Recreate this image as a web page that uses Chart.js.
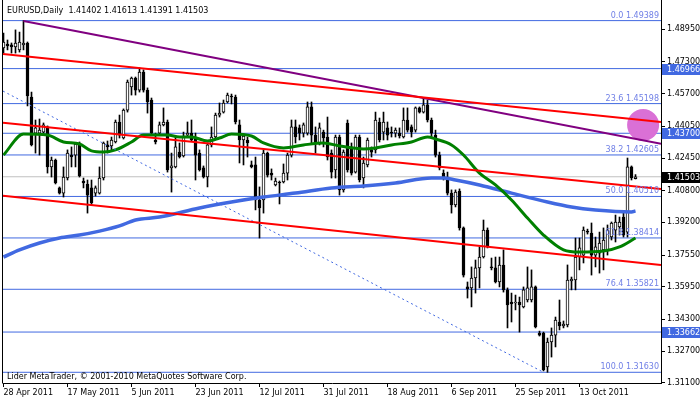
<!DOCTYPE html>
<html>
<head>
<meta charset="utf-8">
<title>EURUSD, Daily</title>
<script src="https://cdn.jsdelivr.net/npm/chart.js@4.4.1/dist/chart.umd.min.js"></script>
<style>
  html, body { margin: 0; padding: 0; background: #fff; }
  #chart { display: block; }
</style>
</head>
<body>
<canvas id="chart" width="700" height="402"></canvas>
<script>
// ---------------------------------------------------------------
// Daily bars, 28 Apr 2011 .. 20 Oct 2011 (Sunday bars included)
// ---------------------------------------------------------------
const openPrices = [
  1.4801, 1.4821, 1.4816, 1.4806, 1.4791, 1.4816, 1.4826, 1.4553, 1.4371, 1.4371,
  1.4376, 1.4402, 1.4200, 1.4235, 1.4094, 1.4068, 1.4144, 1.4260, 1.4260, 1.4321,
  1.4129, 1.4114, 1.4094, 1.4068, 1.4068, 1.4144, 1.4311, 1.4306, 1.4326, 1.4427,
  1.4346, 1.4487, 1.4604, 1.4649, 1.4588, 1.4679, 1.4588, 1.4538, 1.4336, 1.4371,
  1.4412, 1.4427, 1.4195, 1.4200, 1.4275, 1.4255, 1.4361, 1.4371, 1.4351, 1.4270,
  1.4195, 1.4149, 1.4311, 1.4351, 1.4462, 1.4477, 1.4528, 1.4558, 1.4553, 1.4412,
  1.4336, 1.4336, 1.4210, 1.4210, 1.4033, 1.4033, 1.4270, 1.4169, 1.4109, 1.4124,
  1.4124, 1.4169, 1.4260, 1.4402, 1.4397, 1.4371, 1.4371, 1.4503, 1.4361, 1.4321,
  1.4376, 1.4351, 1.4270, 1.4185, 1.4351, 1.4084, 1.4422, 1.4301, 1.4174, 1.4351,
  1.4144, 1.4210, 1.4286, 1.4286, 1.4427, 1.4376, 1.4397, 1.4376, 1.4371, 1.4371,
  1.4351, 1.4437, 1.4402, 1.4386, 1.4498, 1.4477, 1.4513, 1.4437, 1.4361, 1.4260,
  1.4169, 1.4144, 1.4068, 1.4008, 1.4078, 1.3892, 1.3594, 1.3589, 1.3639, 1.3690,
  1.3745, 1.3881, 1.3695, 1.3690, 1.3619, 1.3705, 1.3579, 1.3518, 1.3513, 1.3518,
  1.3493, 1.3528, 1.3528, 1.3594, 1.3361, 1.3361, 1.3190, 1.3316, 1.3351, 1.3417,
  1.3397, 1.3402, 1.3624, 1.3629, 1.3745, 1.3755, 1.3876, 1.3866, 1.3755, 1.3765,
  1.3781, 1.3781, 1.3846, 1.3881, 1.3897, 1.3947, 1.3871, 1.4200, 1.41402
];
const highPrices = [
  1.4876, 1.4841, 1.4826, 1.4892, 1.4881, 1.4939, 1.4831, 1.4578, 1.4437, 1.4442,
  1.4422, 1.4407, 1.4250, 1.4240, 1.4099, 1.4200, 1.4286, 1.4301, 1.4321, 1.4326,
  1.4144, 1.4134, 1.4134, 1.4104, 1.4200, 1.4326, 1.4331, 1.4351, 1.4437, 1.4462,
  1.4493, 1.4639, 1.4654, 1.4654, 1.4700, 1.4690, 1.4599, 1.4548, 1.4371, 1.4427,
  1.4498, 1.4437, 1.4270, 1.4351, 1.4321, 1.4376, 1.4427, 1.4437, 1.4371, 1.4286,
  1.4205, 1.4321, 1.4402, 1.4472, 1.4523, 1.4538, 1.4573, 1.4568, 1.4563, 1.4437,
  1.4366, 1.4351, 1.4230, 1.4250, 1.4099, 1.4286, 1.4275, 1.4190, 1.4144, 1.4129,
  1.4215, 1.4270, 1.4437, 1.4437, 1.4412, 1.4422, 1.4528, 1.4528, 1.4402, 1.4422,
  1.4386, 1.4452, 1.4286, 1.4361, 1.4361, 1.4286, 1.4437, 1.4321, 1.4361, 1.4361,
  1.4250, 1.4346, 1.4301, 1.4477, 1.4447, 1.4477, 1.4427, 1.4402, 1.4397, 1.4397,
  1.4498, 1.4498, 1.4412, 1.4503, 1.4503, 1.4548, 1.4538, 1.4447, 1.4386, 1.4275,
  1.4185, 1.4174, 1.4084, 1.4084, 1.4089, 1.3897, 1.3619, 1.3695, 1.3730, 1.3796,
  1.3932, 1.3892, 1.3740, 1.3745, 1.3745, 1.3781, 1.3589, 1.3563, 1.3553, 1.3543,
  1.3594, 1.3695, 1.3680, 1.3599, 1.3371, 1.3366, 1.3336, 1.3387, 1.3442, 1.3528,
  1.3422, 1.3705, 1.3644, 1.3841, 1.3841, 1.3897, 1.3886, 1.3917, 1.3846, 1.3871,
  1.3892, 1.3907, 1.3922, 1.3957, 1.3947, 1.3967, 1.4245, 1.4205, 1.41613
];
const lowPrices = [
  1.4775, 1.4791, 1.4775, 1.4775, 1.4780, 1.4791, 1.4508, 1.4306, 1.4270, 1.4260,
  1.4371, 1.4169, 1.4149, 1.4114, 1.4063, 1.4048, 1.4134, 1.4200, 1.4200, 1.4149,
  1.4094, 1.3967, 1.4008, 1.4053, 1.4063, 1.4134, 1.4270, 1.4286, 1.4321, 1.4346,
  1.4341, 1.4477, 1.4563, 1.4563, 1.4578, 1.4578, 1.4472, 1.4361, 1.4316, 1.4361,
  1.4407, 1.4174, 1.4073, 1.4195, 1.4245, 1.4250, 1.4351, 1.4331, 1.4134, 1.4179,
  1.4144, 1.4099, 1.4301, 1.4346, 1.4452, 1.4472, 1.4523, 1.4518, 1.4417, 1.4220,
  1.4210, 1.4250, 1.4195, 1.3983, 1.3841, 1.3967, 1.4149, 1.4134, 1.4104, 1.4013,
  1.4119, 1.4134, 1.4250, 1.4321, 1.4336, 1.4351, 1.4361, 1.4321, 1.4270, 1.4311,
  1.4301, 1.4235, 1.4144, 1.4144, 1.4058, 1.4073, 1.4174, 1.4159, 1.4169, 1.4124,
  1.4094, 1.4200, 1.4250, 1.4270, 1.4326, 1.4336, 1.4336, 1.4351, 1.4351, 1.4346,
  1.4346, 1.4376, 1.4351, 1.4376, 1.4472, 1.4472, 1.4427, 1.4351, 1.4250, 1.4185,
  1.4134, 1.4058, 1.3967, 1.3998, 1.3881, 1.3644, 1.3538, 1.3493, 1.3563, 1.3589,
  1.3740, 1.3791, 1.3680, 1.3614, 1.3594, 1.3568, 1.3387, 1.3417, 1.3478, 1.3366,
  1.3488, 1.3518, 1.3518, 1.3387, 1.3346, 1.3170, 1.3163, 1.3240, 1.3291, 1.3377,
  1.3387, 1.3392, 1.3579, 1.3579, 1.3680, 1.3715, 1.3861, 1.3654, 1.3695, 1.3664,
  1.3680, 1.3755, 1.3831, 1.3821, 1.3856, 1.3846, 1.3846, 1.4134, 1.41391
];
const closePrices = [
  1.4831, 1.4811, 1.4806, 1.4826, 1.4831, 1.4826, 1.4558, 1.4311, 1.4397, 1.4386,
  1.4412, 1.4200, 1.4235, 1.4119, 1.4068, 1.4149, 1.4270, 1.4250, 1.4316, 1.4154,
  1.4119, 1.4058, 1.4018, 1.4094, 1.4144, 1.4321, 1.4301, 1.4336, 1.4427, 1.4361,
  1.4487, 1.4629, 1.4649, 1.4588, 1.4679, 1.4588, 1.4528, 1.4371, 1.4326, 1.4412,
  1.4427, 1.4185, 1.4205, 1.4301, 1.4250, 1.4351, 1.4371, 1.4336, 1.4260, 1.4185,
  1.4149, 1.4311, 1.4351, 1.4462, 1.4472, 1.4523, 1.4563, 1.4553, 1.4427, 1.4336,
  1.4356, 1.4321, 1.4200, 1.4033, 1.3993, 1.4270, 1.4159, 1.4159, 1.4129, 1.4119,
  1.4169, 1.4260, 1.4402, 1.4351, 1.4371, 1.4412, 1.4503, 1.4361, 1.4321, 1.4397,
  1.4346, 1.4250, 1.4174, 1.4351, 1.4084, 1.4275, 1.4185, 1.4169, 1.4351, 1.4134,
  1.4220, 1.4336, 1.4275, 1.4437, 1.4336, 1.4427, 1.4361, 1.4371, 1.4386, 1.4356,
  1.4437, 1.4386, 1.4376, 1.4498, 1.4477, 1.4513, 1.4437, 1.4371, 1.4260, 1.4195,
  1.4144, 1.4068, 1.4008, 1.4073, 1.3892, 1.3654, 1.3584, 1.3639, 1.3690, 1.3745,
  1.3881, 1.3796, 1.3690, 1.3619, 1.3705, 1.3579, 1.3503, 1.3508, 1.3518, 1.3503,
  1.3579, 1.3589, 1.3594, 1.3392, 1.3351, 1.3175, 1.3316, 1.3351, 1.3427, 1.3397,
  1.3407, 1.3629, 1.3634, 1.3745, 1.3791, 1.3881, 1.3871, 1.3755, 1.3796, 1.3816,
  1.3831, 1.3881, 1.3917, 1.3922, 1.3922, 1.3856, 1.4200, 1.4144, 1.41503
];

// moving averages, read at sample bars
const maGreenIdx = [0, 5, 11, 15, 19, 22, 25, 28, 32, 35, 41, 44, 47, 51, 54, 57, 62, 65, 70, 75,
  80, 84, 90, 93, 97, 102, 106, 108, 112, 115, 119, 123, 127, 131, 135, 140, 144, 150, 154, 158];
const maGreenVal = [1.4260, 1.4366, 1.4361, 1.4326, 1.4316, 1.4281, 1.4275, 1.4286, 1.4326, 1.4361,
  1.4361, 1.4351, 1.4351, 1.4331, 1.4346, 1.4366, 1.4356, 1.4321, 1.4296, 1.4311,
  1.4321, 1.4306, 1.4291, 1.4296, 1.4311, 1.4326, 1.4351, 1.4341, 1.4311, 1.4260,
  1.4169, 1.4109, 1.4033, 1.3942, 1.3856, 1.3781, 1.3770, 1.3775, 1.3796, 1.3841];
const maBlueIdx = [0, 4, 9, 14, 19, 24, 29, 33, 39, 49, 57, 65, 73, 82, 90, 98, 107, 110, 113,
  119, 127, 136, 142, 148, 157, 158];
const maBlueVal = [1.3745, 1.3781, 1.3816, 1.3841, 1.3856, 1.3876, 1.3902, 1.3932, 1.3947, 1.3993,
  1.4023, 1.4048, 1.4068, 1.4094, 1.4104, 1.4119, 1.4144, 1.4144, 1.4134, 1.4109,
  1.4068, 1.4023, 1.3998, 1.3983, 1.3973, 1.3978];

// trend lines: [barIndex, price] pairs
const redTop = [[-0.125, 1.4770], [164.375, 1.4427]];
const redMid = [[-0.125, 1.4423], [164.375, 1.4089]];
const redLow = [[-0.125, 1.4055], [164.375, 1.3705]];
const purpleLine = [[5, 1.4937], [164.375, 1.4317]];
const dottedLine = [[-0.125, 1.4583], [135, 1.3163]];
const circleMark = [[159.9, 1.4412]];

// fibonacci retracement and other horizontal levels
const fibLevels = ['0.0', '23.6', '38.2', '50.0', '61.8', '76.4', '100.0'];
const fibPrices = [1.49389, 1.45198, 1.42605, 1.40510, 1.38414, 1.35821, 1.31630];
const markPrices = [1.46966, 1.43700, 1.33662];
const bidPrice = 1.41503;

const xTickIdx = [0, 16, 32, 48, 64, 80, 96, 112, 128, 144];
const xTickLabels = ['28 Apr 2011', '17 May 2011', '5 Jun 2011', '23 Jun 2011', '12 Jul 2011',
  '31 Jul 2011', '18 Aug 2011', '6 Sep 2011', '25 Sep 2011', '13 Oct 2011'];
const yTicks = [1.31100, 1.32700, 1.34300, 1.35950, 1.37550, 1.39200, 1.40800, 1.42450,
  1.44050, 1.45700, 1.47300, 1.48950];

const headerText = 'EURUSD,Daily  1.41402 1.41613 1.41391 1.41503';
const footerText = 'Lider MetaTrader, \u00A9 2001-2010 MetaQuotes Software Corp.';

// ---------------------------------------------------------------
const X_MIN = -0.125, X_MAX = 164.375;
const FONT = '8px "DejaVu Sans", Verdana, sans-serif';
const LEVEL_BLUE = '#4169e1';

Chart.defaults.font.family = '"DejaVu Sans", Verdana, sans-serif';
Chart.defaults.font.size = 8;
Chart.defaults.color = '#000';

const bars = openPrices.map((_, i) => i);
const wickData = bars.map(i => ({ x: i, y: [lowPrices[i], highPrices[i]] }));
const bodyData = bars.map(i => ({ x: i, y: [openPrices[i], closePrices[i]] }));
const bodyFill = bars.map(i => closePrices[i] >= openPrices[i] ? '#ffffff' : '#000000');

const toPts = pairs => pairs.map(p => ({ x: p[0], y: p[1] }));

function lineSet(points, color, width, order, extra) {
    return Object.assign({
        type: 'line',
        data: points,
        borderColor: color,
        borderWidth: width,
        pointRadius: 0,
        fill: false,
        tension: 0,
        order: order
    }, extra || {});
}

// no automatic label padding: the plot must fill the frame exactly
function noPad(s) {
    s.paddingLeft = 0; s.paddingRight = 0; s.paddingTop = 0; s.paddingBottom = 0;
}

const datasets = [
    // trend lines + indicators (top)
    lineSet(toPts(redTop), '#ff0000', 2, 1),
    lineSet(toPts(redMid), '#ff0000', 2, 1),
    lineSet(toPts(redLow), '#ff0000', 2, 1),
    lineSet(toPts(purpleLine), '#800080', 2, 1),
    lineSet(toPts(dottedLine), LEVEL_BLUE, 1, 1, { borderDash: [2, 3] }),
    lineSet(maGreenIdx.map((x, k) => ({ x: x, y: maGreenVal[k] })), '#008000', 3, 1,
        { cubicInterpolationMode: 'monotone' }),
    lineSet(maBlueIdx.map((x, k) => ({ x: x, y: maBlueVal[k] })), LEVEL_BLUE, 3.5, 1,
        { cubicInterpolationMode: 'monotone' }),
    // candles
    {
        type: 'bar', data: bodyData, grouped: false, barThickness: 3, minBarLength: 1,
        backgroundColor: bodyFill, borderColor: '#000', borderWidth: 1, borderSkipped: false,
        order: 2
    },
    {
        type: 'bar', data: wickData, grouped: false, barThickness: 1,
        backgroundColor: '#000', borderWidth: 0, order: 3
    },
    // ellipse object
    {
        type: 'scatter', data: toPts(circleMark), pointRadius: 16, pointBorderWidth: 0,
        pointBackgroundColor: '#da70d6', showLine: false, order: 4
    },
    // horizontal levels (bottom)
    lineSet([{ x: X_MIN, y: bidPrice }, { x: X_MAX, y: bidPrice }], '#c0c0c0', 1, 5)
];
fibPrices.concat(markPrices).forEach(p => {
    datasets.push(lineSet([{ x: X_MIN, y: p }, { x: X_MAX, y: p }], LEVEL_BLUE, 1, 5));
});

// text labels, price boxes and frame
const overlay = {
    id: 'overlay',
    afterDatasetsDraw(chart) {
        const { ctx, chartArea, scales: { y } } = chart;
        ctx.save();
        ctx.font = FONT;
        ctx.fillStyle = '#6f7fe6';
        ctx.textAlign = 'right';
        ctx.textBaseline = 'bottom';
        fibPrices.forEach((p, k) => {
            ctx.fillText(fibLevels[k] + ' ' + p.toFixed(5), chartArea.right - 2, Math.round(y.getPixelForValue(p)) - 1);
        });
        ctx.restore();
    },
    afterDraw(chart) {
        const { ctx, chartArea, scales: { y } } = chart;
        ctx.save();
        ctx.font = FONT;
        ctx.textBaseline = 'middle';
        ctx.textAlign = 'left';

        const box = (price, bg) => {
            const py = Math.round(y.getPixelForValue(price));
            ctx.fillStyle = bg;
            ctx.fillRect(chartArea.right + 1, py - 5, 700 - chartArea.right - 1, 11);
            ctx.fillStyle = '#fff';
            ctx.fillText(price.toFixed(5), chartArea.right + 6, py + 0.5);
        };
        markPrices.forEach(p => box(p, LEVEL_BLUE));
        box(bidPrice, '#000');

        ctx.fillStyle = '#000';
        ctx.fillText(headerText, 7, 11);
        ctx.fillText(footerText, 7, 377);

        // left frame line
        ctx.strokeStyle = '#000';
        ctx.lineWidth = 1;
        ctx.beginPath();
        ctx.moveTo(2.5, chartArea.top);
        ctx.lineTo(2.5, chartArea.bottom + 0.5);
        ctx.stroke();
        ctx.restore();
    }
};

new Chart(document.getElementById('chart').getContext('2d'), {
    type: 'bar',
    data: { datasets: datasets },
    options: {
        responsive: false,
        animation: false,
        events: [],
        layout: { autoPadding: false, padding: { left: 3, top: 0, right: 0, bottom: 0 } },
        plugins: { legend: { display: false }, tooltip: { enabled: false } },
        scales: {
            x: {
                type: 'linear',
                min: X_MIN,
                max: X_MAX,
                offset: false,
                grid: { drawOnChartArea: false, offset: false, tickLength: 4, color: '#000' },
                border: { color: '#000' },
                ticks: {
                    autoSkip: false,
                    maxRotation: 0,
                    align: 'start',
                    padding: 1,
                    color: '#000',
                    callback: v => {
                        const k = xTickIdx.indexOf(v);
                        return k >= 0 ? xTickLabels[k] : '';
                    }
                },
                afterBuildTicks: s => { s.ticks = xTickIdx.map(v => ({ value: v })); },
                afterFit: s => { s.height = 19; noPad(s); }
            },
            y: {
                position: 'right',
                min: 1.31089,
                max: 1.5043,
                beginAtZero: false,
                grid: { drawOnChartArea: false, tickLength: 4, color: '#000' },
                border: { color: '#000' },
                ticks: {
                    padding: 2,
                    color: '#000',
                    callback: v => Number(v).toFixed(5)
                },
                afterBuildTicks: s => { s.ticks = yTicks.map(v => ({ value: v })); },
                afterFit: s => { s.width = 39; noPad(s); }
            }
        }
    },
    plugins: [overlay]
});
</script>
</body>
</html>
